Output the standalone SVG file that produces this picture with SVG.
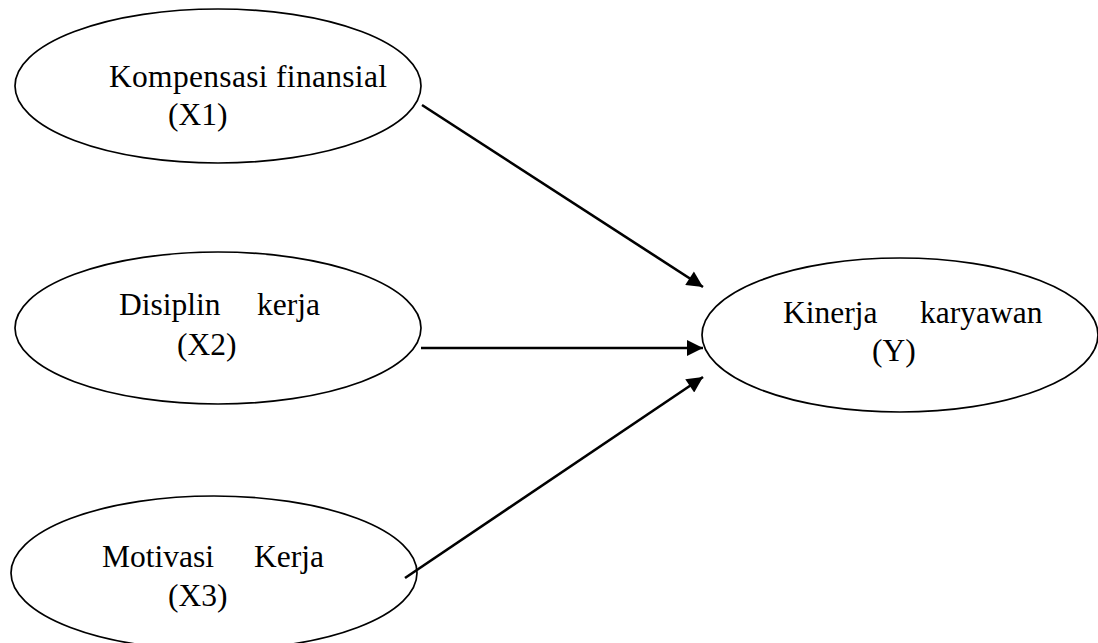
<svg xmlns="http://www.w3.org/2000/svg" width="1098" height="643" viewBox="0 0 1098 643">
<style>
.node ellipse{fill:#fff;stroke:#000;stroke-width:1.7}
.node text{font-family:"Liberation Serif","Times New Roman",serif;font-size:31.5px;fill:#000}
.conn line{stroke:#000;stroke-width:2.6}
</style>
<defs>
<marker id="ah" viewBox="0 0 10 10" refX="10" refY="5" markerWidth="18" markerHeight="16" markerUnits="userSpaceOnUse" orient="auto">
<path d="M0,0 L10,5 L0,10 Z" fill="#000"/>
</marker>
</defs>
<rect width="1098" height="643" fill="#fff"/>
<g id="n1" class="node">
<ellipse cx="218" cy="86" rx="203" ry="77"/>
<text x="109" y="87" textLength="278">Kompensasi finansial</text>
<text x="168" y="125">(X1)</text>
</g>
<g id="n2" class="node">
<ellipse cx="218" cy="328" rx="203" ry="76"/>
<text x="119" y="315">Disiplin</text>
<text x="257" y="315">kerja</text>
<text x="177" y="355">(X2)</text>
</g>
<g id="n3" class="node">
<ellipse cx="214" cy="573" rx="203" ry="77"/>
<text x="102" y="567">Motivasi</text>
<text x="254" y="567">Kerja</text>
<text x="168" y="606">(X3)</text>
</g>
<g id="n4" class="node">
<ellipse cx="900" cy="335" rx="198" ry="77"/>
<text x="783" y="323">Kinerja</text>
<text x="920" y="323">karyawan</text>
<text x="872" y="361">(Y)</text>
</g>
<g id="connectors" class="conn">
<line x1="422" y1="105" x2="703" y2="287" marker-end="url(#ah)"/>
<line x1="421" y1="348" x2="703" y2="348" marker-end="url(#ah)"/>
<line x1="405" y1="578" x2="703" y2="377" marker-end="url(#ah)"/>
</g>
</svg>
